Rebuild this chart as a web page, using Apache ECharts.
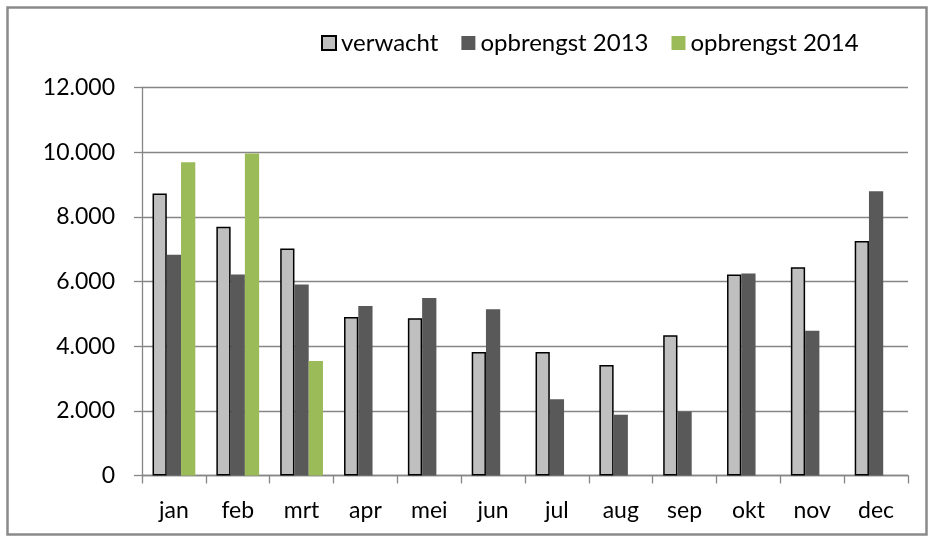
<!DOCTYPE html>
<html>
<head>
<meta charset="utf-8">
<script src="https://cdn.jsdelivr.net/npm/echarts@6/dist/echarts.min.js"></script>
<style>
html,body{margin:0;padding:0;background:#fff;}
#c{width:928px;height:536px;}
</style>
</head>
<body>
<div id="c"></div>
<script>
const months = ['jan','feb','mrt','apr','mei','jun','jul','aug','sep','okt','nov','dec'];
const verwacht = [8720, 7690, 7020, 4900, 4860, 3820, 3820, 3420, 4340, 6220, 6440, 7250];
const opbrengst2013 = [6830, 6220, 5910, 5240, 5490, 5140, 2360, 1880, 1980, 6250, 4480, 8790];
const opbrengst2014 = [9690, 9960, 3540, null, null, null, null, null, null, null, null, null];
const seriesNames = ['verwacht', 'opbrengst 2013', 'opbrengst 2014'];

const FONT = 'Lato';
const chart = echarts.init(document.getElementById('c'), null, {renderer:'canvas'});
const fmt = v => String(v).replace(/\B(?=(\d{3})+(?!\d))/g, '.');

chart.setOption({
  animation: false,
  backgroundColor: '#fff',
  textStyle: {fontFamily: FONT, color: '#000'},
  graphic: [{
    type: 'rect', left: 5, top: 5, silent: true,
    shape: {width: 919, height: 527},
    style: {fill: 'none', stroke: '#8a8a8a', lineWidth: 2.5}
  }],
  legend: {
    left: 316, top: 26, icon: 'rect',
    itemWidth: 14, itemHeight: 14, itemGap: 23,
    textStyle: {fontFamily: FONT, fontSize: 24, color: '#000'},
    data: seriesNames
  },
  grid: {left: 142, right: 20, top: 87.5, bottom: 60.5},
  xAxis: {
    type: 'category', data: months,
    axisLine: {lineStyle: {color: '#868686', width: 1.3}},
    axisTick: {show: true, length: 8, lineStyle: {color: '#868686', width: 1.3}},
    axisLabel: {fontFamily: FONT, fontSize: 23, color: '#000', margin: 24}
  },
  yAxis: {
    type: 'value', min: 0, max: 12000, interval: 2000,
    axisLine: {show: true, lineStyle: {color: '#868686', width: 1.3}},
    axisTick: {show: true, length: 8, lineStyle: {color: '#868686', width: 1.3}},
    splitLine: {lineStyle: {color: '#868686', width: 1.3}},
    axisLabel: {fontFamily: FONT, fontSize: 23, color: '#000', margin: 27, formatter: fmt}
  },
  series: [
    {name: seriesNames[0], type: 'bar', data: verwacht, barGap: '0%', barCategoryGap: '33%',
     itemStyle: {color: '#bfbfbf', borderColor: '#000', borderWidth: 1.5}},
    {name: seriesNames[1], type: 'bar', data: opbrengst2013, barGap: '0%', barCategoryGap: '33%',
     itemStyle: {color: '#595959'}},
    {name: seriesNames[2], type: 'bar', data: opbrengst2014, barGap: '0%', barCategoryGap: '33%',
     itemStyle: {color: '#9bbb59'}}
  ]
});
</script>
</body>
</html>
